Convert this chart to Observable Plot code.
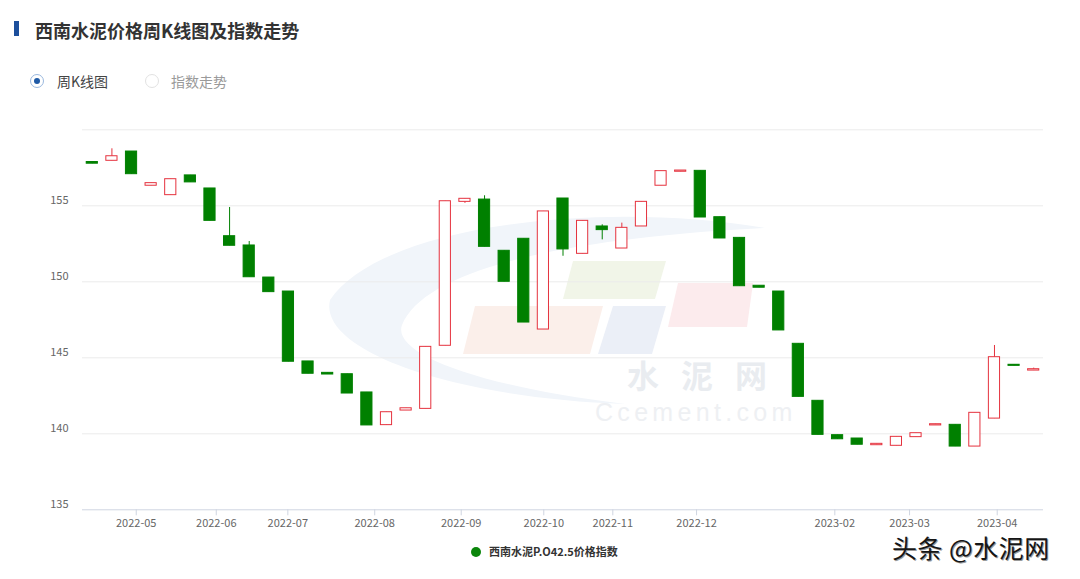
<!DOCTYPE html>
<html>
<head>
<meta charset="utf-8">
<script src="https://cdn.jsdelivr.net/npm/d3@7"></script>
<script src="https://cdn.jsdelivr.net/npm/@observablehq/plot@0.6"></script>
<style>
  html, body { margin: 0; padding: 0; background: #fff; }
  #page { position: relative; width: 1080px; height: 579px; overflow: hidden; font-family: "Noto Sans CJK SC", "Noto Sans", sans-serif; }
  .abs { position: absolute; white-space: nowrap; line-height: 1; }
  #bar { left: 14px; top: 21px; width: 5px; height: 15px; background: #1d4f9c; }
  #title { left: 35px; top: 21px; font-size: 18px; font-weight: bold; color: #333; }
  .radio { width: 12px; height: 12px; border-radius: 50%; box-sizing: border-box; }
  #r1 { left: 30px; top: 74px; width: 14px; height: 14px; border: 1.5px solid #9ab8de; background: #fff; }
  #r1::after { content: ""; position: absolute; left: 2.5px; top: 2.5px; width: 6px; height: 6px; border-radius: 50%; background: #1f5aa6; }
  #r1l { left: 57px; top: 74px; font-size: 14px; color: #444; }
  #r2 { left: 145px; top: 74px; width: 14px; height: 14px; border: 1.5px solid #e2e2e2; background: #fff; }
  #r2l { left: 171px; top: 74px; font-size: 14px; color: #9a9a9a; }
  #wm { position: absolute; left: 0; top: 0; }
  #chart { position: absolute; left: 0; top: 100px; }
  #legdot { left: 471px; top: 547px; width: 10px; height: 10px; border-radius: 50%; background: #0b860b; }
  #legtxt { left: 489px; top: 546px; font-size: 11px; font-weight: bold; color: #333; }
  #toutiao { left: 892px; top: 535px; font-size: 25px; color: #161616; letter-spacing: 0.5px;
    text-shadow: 1px 1px 0 #9a9a9a, -1px -1px 0 #ffffff; }
</style>
</head>
<body>
<div id="page">
  <svg id="wm" width="1080" height="579">
    <path d="M 765 228 C 600 200, 380 225, 330 300 C 318 350, 450 398, 625 404 C 470 385, 392 352, 402 325 C 425 268, 570 238, 765 228 Z" fill="#f1f5fa"/>
    <polygon points="573,261 666,261 655,299 563,299" fill="#f1f5e8"/>
    <polygon points="475,306 603,306 590,354 463,354" fill="#fbefea"/>
    <polygon points="613,306 666,306 652,354 598,354" fill="#ebeff7"/>
    <polygon points="678,283 753,283 747,327 668,327" fill="#fcebed"/>
    <text x="627" y="388" font-size="32" font-weight="bold" fill="#e9ecf0" letter-spacing="22" font-family="Noto Sans CJK SC, sans-serif">水泥网</text>
    <text x="595" y="421" font-size="25" fill="#eef0f3" letter-spacing="4.3" font-family="Liberation Sans, sans-serif">Ccement.com</text>
  </svg>
  <div id="chart"></div>
  <div class="abs" id="bar"></div>
  <div class="abs" id="title">西南水泥价格周K线图及指数走势</div>
  <div class="abs radio" id="r1"></div>
  <div class="abs" id="r1l">周K线图</div>
  <div class="abs radio" id="r2"></div>
  <div class="abs" id="r2l">指数走势</div>
  <div class="abs" id="legdot"></div>
  <div class="abs" id="legtxt">西南水泥P.O42.5价格指数</div>
  <div class="abs" id="toutiao">头条 @水泥网</div>
</div>
<script>
// Weekly K-line data
const open  = [157.88,157.96,158.57,156.32,155.70,157.00,156.14,153.00,152.39,150.28,149.36,144.76,144.01,143.92,142.72,140.57,141.53,141.64,145.79,155.26,155.41,152.04,152.83,146.86,155.48,151.84,153.64,152.19,153.64,156.32,157.24,157.30,154.25,152.89,149.74,149.36,145.92,142.17,139.91,139.69,139.25,139.21,139.78,140.55,140.59,139.16,141.00,144.54,144.16];
const close = [157.77,158.26,157.08,156.49,156.75,156.54,154.01,152.37,150.30,149.32,144.74,143.95,143.90,142.65,140.55,141.42,141.68,145.72,155.30,155.46,152.30,150.00,147.32,154.63,152.13,154.01,153.40,153.55,155.26,157.28,157.32,154.23,152.85,149.71,149.61,146.80,142.43,139.93,139.64,139.28,139.34,139.80,140.04,140.63,139.16,141.38,145.04,144.47,144.25];
const high  = [157.88,158.75,158.57,156.49,156.75,157.00,156.14,154.89,152.65,150.28,149.36,144.76,144.01,143.92,142.72,141.42,141.68,145.72,155.30,155.46,155.66,152.04,152.83,154.63,155.48,154.01,153.75,153.86,155.26,157.28,157.32,157.30,154.25,152.89,149.74,149.36,145.92,142.17,139.91,139.69,139.34,139.80,140.04,140.63,140.59,141.38,145.81,144.54,144.32];
const low   = [157.77,157.96,157.08,156.32,155.70,156.54,154.01,152.37,150.30,149.32,144.74,143.95,143.90,142.65,140.55,140.57,141.53,141.64,145.79,155.16,152.30,150.00,147.32,146.86,151.68,151.84,152.76,152.19,153.64,156.32,157.24,154.23,152.85,149.71,149.61,146.80,142.43,139.93,139.64,139.28,139.25,139.21,139.78,140.55,139.16,139.16,141.00,144.47,144.16];

// x-axis month ticks (positions in week-index units) and labels
const xTickPos    = [2.24, 6.32, 9.97, 14.40, 18.81, 23.02, 26.54, 30.81, 37.86, 41.67, 46.14];
const xTickLabels = ["2022-05","2022-06","2022-07","2022-08","2022-09","2022-10","2022-11","2022-12","2023-02","2023-03","2023-04"];
// y-axis
const yTickLabels = [135, 140, 145, 150, 155];
const yGrid = [140, 145, 150, 155, 160];

const RED = "#e5323e", GREEN = "#008000";
const data = open.map((o, i) => ({i, o, c: close[i], h: high[i], l: low[i], up: close[i] >= o}));
const labelOf = new Map(xTickPos.map((p, k) => [p, xTickLabels[k]]));

const chart = Plot.plot({
  width: 1080,
  height: 430,
  marginLeft: 82,
  marginRight: 37,
  marginTop: 29.3,
  marginBottom: 20.7,
  style: {background: "transparent", fontFamily: "'Noto Sans CJK SC', 'Noto Sans', sans-serif", fontSize: "11px", overflow: "visible"},
  x: {type: "linear", domain: [-0.5, 48.5], ticks: xTickPos, tickFormat: d => labelOf.get(d) ?? "", tickSize: 6, tickPadding: 3, label: null},
  y: {domain: [135, 160], axis: null},
  color: {type: "identity"},
  marks: [
    Plot.ruleY(yGrid, {stroke: "#ebebeb", strokeWidth: 1}),
    Plot.ruleY([135], {stroke: "#cfd5e1", strokeWidth: 1}),
    Plot.text(yTickLabels, {x: -0.5, y: d => d, text: d => String(d), textAnchor: "end", dx: -14, dy: -5, fill: "#666", fontSize: 11}),
    Plot.ruleX(data, {x: "i", y1: "l", y2: "h", stroke: d => d.up ? RED : GREEN, strokeWidth: 1}),
    Plot.rect(data, {x1: d => d.i - 0.285, x2: d => d.i + 0.285, y1: "o", y2: "c",
      fill: d => d.up ? "#ffffff" : GREEN, stroke: d => d.up ? RED : GREEN, strokeWidth: 1})
  ]
});
document.getElementById("chart").appendChild(chart);
const s = d3.select(chart);
s.selectAll('[aria-label^="x-axis"] line, [aria-label^="x-axis"] path').attr("stroke", "#cfd5e1");
s.selectAll('[aria-label^="x-axis"] text').attr("fill", "#666").style("fill", "#666");
s.selectAll('[aria-label^="x-axis"]').attr("fill", "#666");
</script>
</body>
</html>
